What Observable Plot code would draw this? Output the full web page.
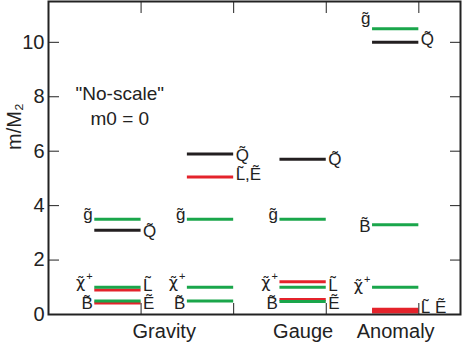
<!DOCTYPE html>
<html><head><meta charset="utf-8">
<script src="https://cdn.jsdelivr.net/npm/d3@7"></script>
<script src="https://cdn.jsdelivr.net/npm/@observablehq/plot@0.6"></script>
<style>
body{margin:0;background:#fff;}
#chart{width:464px;height:342px;}
</style></head><body><div id="chart"></div>
<script>
// ---- data ----
const categories = ["Gravity", "Gauge", "Anomaly"];
const categoryColumns = [[1, 2], [3], [4]];
const yTicks = [0, 2, 4, 6, 8, 10];
const columnTicks = [1, 2, 3, 4];

// spectrum levels (m / M2)
const levelColumn = [1, 1, 1, 1, 1, 1,  2, 2, 2, 2, 2,  3, 3, 3, 3, 3, 3,  4, 4, 4, 4, 4, 4, 4];
const levelMass   = [3.5, 3.1, 0.9, 1.0, 0.42, 0.5,  5.9, 5.05, 3.5, 1.0, 0.5,  5.7, 3.5, 1.2, 1.0, 0.55, 0.48,  10.5, 10.0, 3.3, 1.0, 0.19, 0.14, 0.09];
const levelKind   = ["gaugino", "squark", "slepton", "gaugino", "slepton", "gaugino",
                     "squark", "slepton", "gaugino", "gaugino", "gaugino",
                     "squark", "gaugino", "slepton", "gaugino", "slepton", "gaugino",
                     "gaugino", "squark", "gaugino", "gaugino", "slepton", "slepton", "slepton"];

// particle labels
const G = "g\u0303", Q = "Q\u0303", CHI = "\u03C7\u0303\u207A", B = "B\u0303", L = "L\u0303", E = "\u1EBC";
const labelColumn = [1, 1, 1, 1, 1, 1,  2, 2, 2, 2, 2,  3, 3, 3, 3, 3, 3,  4, 4, 4, 4, 4];
const labelMass   = [3.66, 3.03, 1.19, 0.39, 1.08, 0.42,  5.83, 5.13, 3.66, 1.19, 0.39,  5.68, 3.66, 1.19, 0.39, 1.08, 0.42,  10.86, 10.09, 3.22, 1.08, 0.24];
const labelSide   = ["left", "right", "left", "left", "right", "right",
                     "right", "right", "left", "left", "left",
                     "right", "left", "left", "left", "right", "right",
                     "left", "right", "left", "left", "right"];
const labelText   = [G, Q, CHI, B, L, E,
                     Q, L + "," + E, G, CHI, B,
                     Q, G, CHI, B, L, E,
                     G, Q, B, CHI, L + " " + E];

const noteText = ["\"No-scale\"\nm0 = 0"];
const noteX = [0.77];
const noteY = [7.7];
const yLabel = "m/M\u2082";

// ---- derived tables ----
const levelWidth = 0.5;
const levels = levelColumn.map((c, i) => ({col: c, mass: levelMass[i], kind: levelKind[i]}));
const labels = labelColumn.map((c, i) => ({col: c, mass: labelMass[i], side: labelSide[i], text: labelText[i]}));
const cats = categories.map((name, i) => {
  const cols = categoryColumns[i];
  return {name, x: (d3.min(cols) - levelWidth + d3.max(cols)) / 2};
});
const notes = noteText.map((t, i) => ({text: t, x: noteX[i], y: noteY[i]}));

const ink = "#222";
const chart = Plot.plot({
  width: 464, height: 342,
  marginLeft: 48, marginRight: 4, marginTop: 1, marginBottom: 28,
  style: {fontFamily: "'Liberation Sans', Arial, Helvetica, sans-serif", color: ink, background: "#fff"},
  x: {domain: [0, 4.45], axis: null},
  y: {domain: [0, 11.5], axis: null},
  color: {domain: ["gaugino", "slepton", "squark"], range: ["#1aa64b", "#e4232b", "#231f20"]},
  marks: [
    Plot.ruleY(levels, {y: "mass", x1: d => d.col - levelWidth, x2: "col", stroke: "kind", strokeWidth: 3}),
    Plot.text(labels.filter(d => d.side === "left"), {x: d => d.col - levelWidth, y: "mass", text: "text", textAnchor: "end", dx: -2, fontSize: 17, fill: ink}),
    Plot.text(labels.filter(d => d.side === "right"), {x: "col", y: "mass", text: "text", textAnchor: "start", dx: 2, fontSize: 17, fill: ink}),
    Plot.text(cats, {x: "x", text: "name", frameAnchor: "bottom", lineAnchor: "top", dy: 9, fontSize: 20, fill: ink}),
    Plot.text(notes, {x: "x", y: "y", text: "text", fontSize: 19, lineHeight: 1.3, fill: ink}),
    Plot.text([yLabel], {text: d => d, frameAnchor: "left", rotate: -90, dx: -34, dy: -8, fontSize: 20, fill: ink}),
    Plot.axisY(yTicks, {anchor: "left", tickSize: -11, tickPadding: 15, fontSize: 20, label: null, stroke: ink, fill: ink}),
    Plot.axisY(yTicks, {anchor: "right", tickSize: -11, tickFormat: () => "", label: null, stroke: ink}),
    Plot.axisX(columnTicks, {anchor: "top", tickSize: -11, tickFormat: () => "", label: null, stroke: ink}),
    Plot.axisX(columnTicks, {anchor: "bottom", tickSize: -11, tickFormat: () => "", label: null, stroke: ink}),
    Plot.frame({stroke: ink, strokeWidth: 2})
  ]
});
// render the chargino as a Greek chi with a raised "+" tspan
d3.select(chart).selectAll("text").each(function() {
  const el = this;
  if (el.childElementCount === 0 && el.textContent.includes("\u207A")) {
    const base = el.textContent.replace("\u207A", "");
    el.textContent = "";
    const ns = "http://www.w3.org/2000/svg";
    const t1 = document.createElementNS(ns, "tspan");
    t1.textContent = base;
    t1.setAttribute("font-family", "'DejaVu Sans', sans-serif");
    t1.setAttribute("font-size", "16");
    const t2 = document.createElementNS(ns, "tspan");
    t2.textContent = "+";
    t2.setAttribute("dy", "-8");
    t2.setAttribute("dx", "1");
    t2.setAttribute("font-size", "11");
    el.appendChild(t1);
    el.appendChild(t2);
  }
});
document.getElementById("chart").appendChild(chart);
</script>
</body></html>
